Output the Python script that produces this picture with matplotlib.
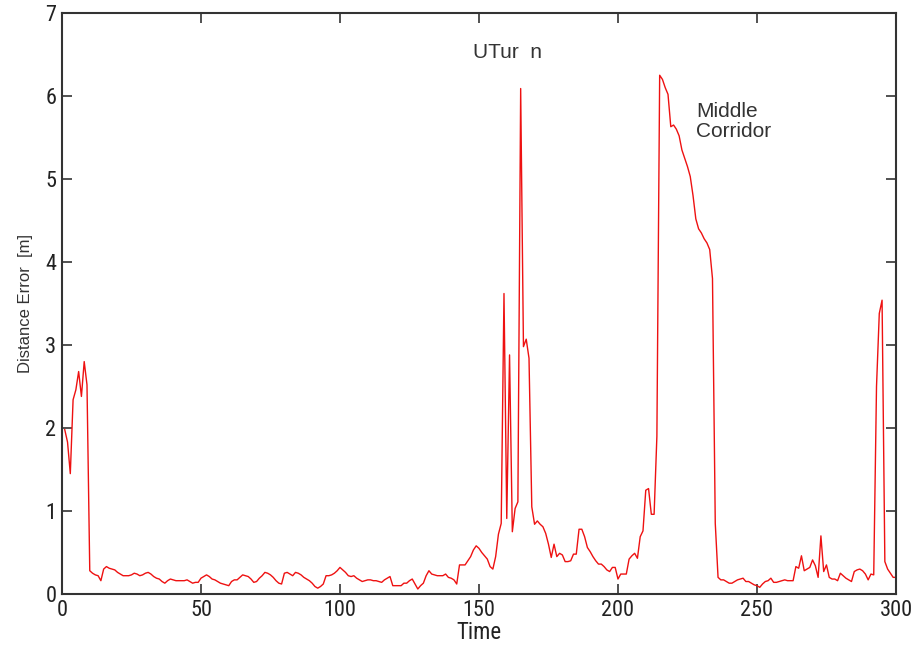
import numpy as np
import matplotlib
matplotlib.use("Agg")
import matplotlib.pyplot as plt
from matplotlib import font_manager

# Distance error per time step, t = 1..300
time = np.arange(1, 301)
error = [
    1.98, 1.83, 1.45, 2.34, 2.46, 2.68, 2.38, 2.80, 2.52, 0.28,
    0.25, 0.23, 0.22, 0.16, 0.30, 0.33, 0.31, 0.30, 0.29, 0.26,
    0.24, 0.22, 0.22, 0.22, 0.23, 0.25, 0.24, 0.22, 0.23, 0.25,
    0.26, 0.24, 0.21, 0.19, 0.18, 0.15, 0.13, 0.16, 0.18, 0.17,
    0.16, 0.16, 0.16, 0.16, 0.17, 0.15, 0.13, 0.14, 0.14, 0.19,
    0.21, 0.23, 0.21, 0.18, 0.17, 0.15, 0.13, 0.12, 0.11, 0.10,
    0.15, 0.17, 0.17, 0.20, 0.23, 0.22, 0.21, 0.18, 0.14, 0.15,
    0.19, 0.22, 0.26, 0.25, 0.23, 0.20, 0.16, 0.13, 0.12, 0.25,
    0.26, 0.24, 0.22, 0.26, 0.25, 0.23, 0.20, 0.18, 0.16, 0.13,
    0.09, 0.07, 0.09, 0.12, 0.22, 0.22, 0.23, 0.25, 0.28, 0.32,
    0.29, 0.26, 0.22, 0.21, 0.22, 0.19, 0.17, 0.15, 0.16, 0.17,
    0.17, 0.16, 0.16, 0.15, 0.14, 0.17, 0.19, 0.21, 0.10, 0.10,
    0.10, 0.10, 0.13, 0.13, 0.16, 0.18, 0.12, 0.06, 0.10, 0.13,
    0.22, 0.28, 0.24, 0.23, 0.22, 0.22, 0.22, 0.24, 0.20, 0.19,
    0.17, 0.12, 0.35, 0.35, 0.35, 0.40, 0.45, 0.53, 0.58, 0.55,
    0.50, 0.46, 0.42, 0.33, 0.30, 0.45, 0.72, 0.85, 3.62, 0.91,
    2.88, 0.75, 1.03, 1.11, 6.09, 2.98, 3.07, 2.84, 1.05, 0.84,
    0.88, 0.84, 0.81, 0.73, 0.60, 0.44, 0.60, 0.45, 0.49, 0.47,
    0.39, 0.39, 0.40, 0.48, 0.48, 0.78, 0.78, 0.69, 0.56, 0.51,
    0.45, 0.40, 0.36, 0.36, 0.33, 0.29, 0.27, 0.32, 0.32, 0.18,
    0.24, 0.24, 0.24, 0.42, 0.46, 0.49, 0.43, 0.69, 0.76, 1.25,
    1.27, 0.96, 0.96, 1.90, 6.25, 6.20, 6.10, 6.02, 5.63, 5.65,
    5.60, 5.52, 5.35, 5.25, 5.15, 5.03, 4.80, 4.52, 4.40, 4.35,
    4.28, 4.23, 4.15, 3.80, 0.85, 0.20, 0.17, 0.17, 0.15, 0.13,
    0.13, 0.15, 0.17, 0.18, 0.19, 0.15, 0.15, 0.13, 0.11, 0.10,
    0.08, 0.12, 0.15, 0.16, 0.19, 0.14, 0.14, 0.15, 0.16, 0.17,
    0.16, 0.16, 0.16, 0.33, 0.31, 0.46, 0.28, 0.30, 0.32, 0.41,
    0.34, 0.20, 0.70, 0.27, 0.35, 0.20, 0.18, 0.18, 0.16, 0.25,
    0.22, 0.19, 0.17, 0.15, 0.27, 0.29, 0.30, 0.28, 0.24, 0.17,
    0.24, 0.23, 2.50, 3.38, 3.54, 0.39, 0.30, 0.25, 0.20, 0.20,
]

x_ticks = [0, 50, 100, 150, 200, 250, 300]
y_ticks = [0, 1, 2, 3, 4, 5, 6, 7]

# condensed face for numbers if one is around
names = {f.name for f in font_manager.fontManager.ttflist}
tick_font = ['DejaVu Sans']
for cand in ['Liberation Sans Narrow', 'Roboto Condensed', 'Open Sans Condensed']:
    if cand in names:
        tick_font = [cand, 'DejaVu Sans']
        break
text_font = ['Liberation Sans', 'DejaVu Sans']

fig = plt.figure(figsize=(9.18, 6.5), dpi=100)
ax = fig.add_axes([0.0675, 0.0862, 0.9085, 0.8938])

ax.plot(time, error, color='#ee1111', linewidth=1.0)

ax.set_xlim(0, 300)
ax.set_ylim(0, 7)
ax.set_xticks(x_ticks)
ax.set_yticks(y_ticks)
ax.tick_params(direction='in', length=7, width=1.2, top=True, right=True,
               colors='#333333', labelsize=16, pad=4)
for lab in ax.get_xticklabels() + ax.get_yticklabels():
    lab.set_family(tick_font)
    lab.set_stretch('condensed')
    lab.set_color('#222222')
for sp in ax.spines.values():
    sp.set_linewidth(1.5)
    sp.set_color('#333333')

ax.set_xlabel('Time', fontsize=16.5, family=tick_font, stretch='condensed',
              color='#222222', labelpad=0)
ax.set_ylabel('Distance Error  [m]', fontsize=12, family=text_font, color='#333333', labelpad=9)

ax.text(148, 6.53, 'UTur  n', fontsize=15, family=text_font, color='#333333',
        va='center', ha='left')
ax.text(228, 5.69, 'Middle\nCorridor', fontsize=15, family=text_font, color='#333333',
        va='center', ha='left', linespacing=1.05)

fig.savefig('out.png', dpi=100)
